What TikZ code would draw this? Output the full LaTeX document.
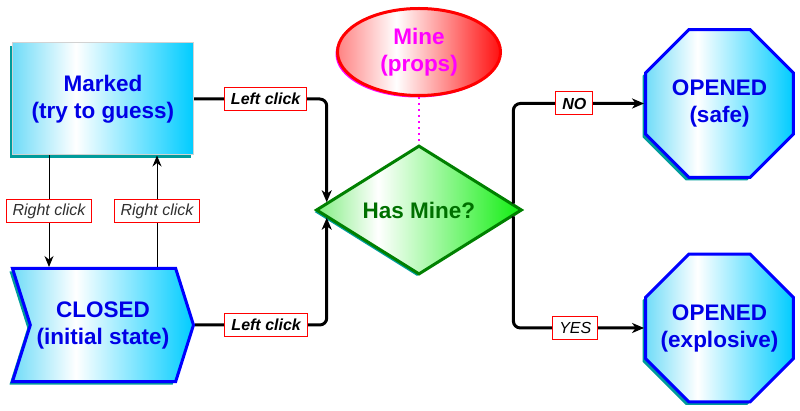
\documentclass[tikz,border=0pt]{standalone}
\usepackage{fontspec}
\setmainfont{Liberation Sans}
\usepackage{tikz}
\usetikzlibrary{positioning,calc,shapes.geometric,shapes.symbols,shadows,arrows.meta}

\definecolor{stateblue}{HTML}{0000E6}
\definecolor{shadowteal}{HTML}{009C9C}
\definecolor{cyanL}{HTML}{70DCF8}
\definecolor{cyanR}{HTML}{00CCFF}
\definecolor{redL}{HTML}{FF8282}
\definecolor{redR}{HTML}{FF1010}
\definecolor{propsmagenta}{HTML}{FF00FF}
\definecolor{greenL}{HTML}{80EE80}
\definecolor{greenR}{HTML}{10EE10}
\definecolor{darkgreen}{HTML}{008000}
\definecolor{textgreen}{HTML}{007000}
\definecolor{clickgray}{HTML}{303030}

\pgfdeclarehorizontalshading{cyanflow}{100bp}{color(0bp)=(cyanL); color(25bp)=(cyanL); color(42.5bp)=(white); color(75bp)=(cyanR); color(100bp)=(cyanR)}
\pgfdeclarehorizontalshading{redflow}{100bp}{color(0bp)=(redL); color(25bp)=(redL); color(43bp)=(white); color(75bp)=(redR); color(100bp)=(redR)}
\pgfdeclarehorizontalshading{greenflow}{100bp}{color(0bp)=(greenL); color(25bp)=(greenL); color(40bp)=(white); color(75bp)=(greenR); color(100bp)=(greenR)}

\begin{document}
\begin{tikzpicture}[x=1pt,y=-1pt]
		\tikzstyle{bigtext}=[font=\bfseries\fontsize{22.5}{27}\selectfont, align=center, inner sep=0pt]
		\tikzstyle{state}=[bigtext, text=stateblue, shade, shading=cyanflow,
			drop shadow={shadow xshift=-3pt, shadow yshift=-3pt, fill=shadowteal, opacity=1}]
		\tikzstyle{opened}=[state, regular polygon, regular polygon sides=8, minimum size=160pt, inner sep=-30pt, draw=blue, line width=3pt]
		\tikzstyle{event}=[draw=red, line width=1pt, sharp corners, fill=white, inner xsep=6.5pt, inner ysep=0pt, minimum height=23pt, font=\itshape\fontsize{16}{16}\selectfont]
		\tikzstyle{connect}=[-{Stealth[length=12pt,width=10pt,inset=3.5pt]}, line width=3pt, rounded corners=7pt]
		\tikzstyle{toggle}=[-{Stealth[length=11pt,width=9pt,inset=3.5pt]}, line width=1pt]
		\useasboundingbox (0,0) rectangle (800,411);
		
		\node[state, rectangle, minimum width=181pt, minimum height=112pt, draw=gray!35, line width=1pt] (marked) at (103,99) {Marked\\(try to guess)};
		\node[state, signal, signal to=east, signal from=west, signal pointer angle=145, minimum width=181pt, minimum height=113pt, draw=blue, line width=3pt, on grid, below=226pt of marked] (closed) {CLOSED\\(initial state)};
		
		\node[bigtext, diamond, minimum width=206pt, minimum height=118pt, draw=darkgreen, line width=3pt, text=textgreen, shade, shading=greenflow,
			drop shadow={shadow xshift=-2pt, shadow yshift=-2pt, fill=shadowteal, opacity=1}, on grid, below right=111pt and 316pt of marked] (hasmine) {Has Mine?};
		\node[bigtext, ellipse, minimum width=163pt, minimum height=87pt, draw=red, line width=3pt, text=propsmagenta, shade, shading=redflow,
			drop shadow={shadow xshift=-2pt, shadow yshift=-2pt, fill=propsmagenta, opacity=1}, on grid, above=158pt of hasmine] (mine) {Mine\\(props)};
		
		\node[opened, on grid, above right=106.5pt and 300.5pt of hasmine] (safe) {OPENED\\(safe)};
		\node[opened, on grid, below=224.5pt of safe] (boom) {OPENED\\(explosive)};
		
		% points where the connectors meet the diamond
		\coordinate (in top) at ($(hasmine.west)!0.117!(hasmine.north)$);
		\coordinate (in bot) at ($(hasmine.west)!0.117!(hasmine.south)$);
		\coordinate (out top) at ($(hasmine.east)!0.097!(hasmine.north)$);
		\coordinate (out bot) at ($(hasmine.east)!0.097!(hasmine.south)$);
		
		\draw[propsmagenta, line width=2pt, dash pattern=on 2pt off 4pt] (mine.south) -- (hasmine.north);
		
		\draw[toggle] ([xshift=-54pt]marked.south) -- ([xshift=-54pt]marked.south |- closed.north)
			node[event, midway, text=clickgray] (rc left) {Right click};
		\draw[toggle] ([xshift=54pt]marked.south |- closed.north) -- ([xshift=54pt]marked.south)
			node[event, midway, text=clickgray] (rc right) {Right click};
		
		\draw[connect] (marked.east) -| (in top)
			node[event, pos=0.27, font=\bfseries\itshape\fontsize{16}{16}\selectfont] (lc top) {Left click};
		\draw[connect] (closed.east) -| (in bot)
			node[event, pos=0.27, font=\bfseries\itshape\fontsize{16}{16}\selectfont] (lc bot) {Left click};
		
		\draw[connect] (out top) |- (safe.west)
			node[event, pos=0.733, font=\bfseries\itshape\fontsize{16}{16}\selectfont] (no) {NO};
		\draw[connect] (out bot) |- (boom.west)
			node[event, pos=0.737] (yes) {YES};
	\end{tikzpicture}
\end{document}
